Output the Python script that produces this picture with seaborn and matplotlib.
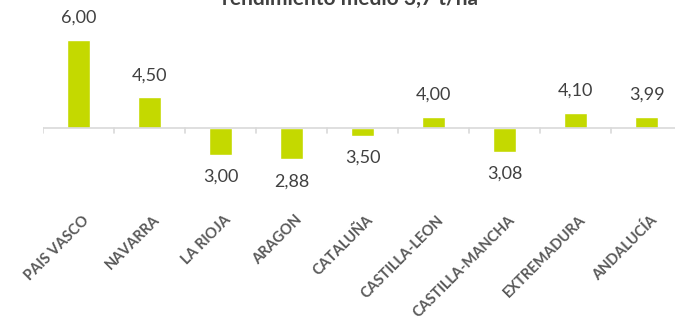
import matplotlib
matplotlib.use("Agg")
import matplotlib.pyplot as plt
import matplotlib.transforms as mtransforms
import seaborn as sns

# data
regions = ["PAIS VASCO", "NAVARRA", "LA RIOJA", "ARAGON", "CATALUÑA",
           "CASTILLA-LEON", "CASTILLA-MANCHA", "EXTREMADURA", "ANDALUCÍA"]
yields = [6.00, 4.50, 3.00, 2.88, 3.50, 4.00, 3.08, 4.10, 3.99]
mean_yield = 3.7
title = "rendimiento medio 3,7 t/ha"

sns.set_style("white")
plt.rcParams["font.family"] = ["Lato", "DejaVu Sans"]

bar_color = "#C4D900"
text_color = "#404040"

dev = [v - mean_yield for v in yields]

fig = plt.figure(figsize=(6.75, 3.19), dpi=100)
W, H = 675, 319
# axes: x from 43px to 682px, y from top 0px to 205px
ax = fig.add_axes([43 / W, (H - 205) / H, 639 / W, 205 / H])

sns.barplot(x=regions, y=dev, color=bar_color, saturation=1, width=0.31, ax=ax)

px_per_unit = 38.3
ax.set_xlim(-0.5, len(regions) - 0.5)
ax.set_ylim(-(205 - 128) / px_per_unit, 128 / px_per_unit)

# baseline with category separators
ax.axhline(0, color="#D9D9D9", lw=1.2, zorder=1)
tick_len = 5 / px_per_unit
for k in range(len(regions) + 1):
    ax.plot([k - 0.5, k - 0.5], [0, -tick_len], color="#D9D9D9", lw=1.2, zorder=1)

for s in ax.spines.values():
    s.set_visible(False)
ax.set_xticks([])
ax.set_yticks([])
ax.set_xlabel("")
ax.set_ylabel("")

# data labels
off = 22 * 0.72
for i, (v, d) in enumerate(zip(yields, dev)):
    ax.annotate(f"{v:.2f}".replace(".", ","), xy=(i, d),
                xytext=(0, off if d >= 0 else -off), textcoords="offset points",
                ha="center", va="center", fontsize=13, color=text_color)

# category labels
trans = mtransforms.blended_transform_factory(ax.transData, ax.transAxes)
for i, r in enumerate(regions):
    ax.text(i + 3 / 71, (205 - 213) / 205, r, transform=trans, rotation=45,
            rotation_mode="anchor", ha="right", va="top", fontsize=10.5,
            fontweight="bold", color="#595959")

fig.text(350 / W, 1 - 5 / H, title, ha="center", va="baseline",
         fontsize=15, fontweight="bold", color=text_color)

fig.savefig("out.png", dpi=100)
